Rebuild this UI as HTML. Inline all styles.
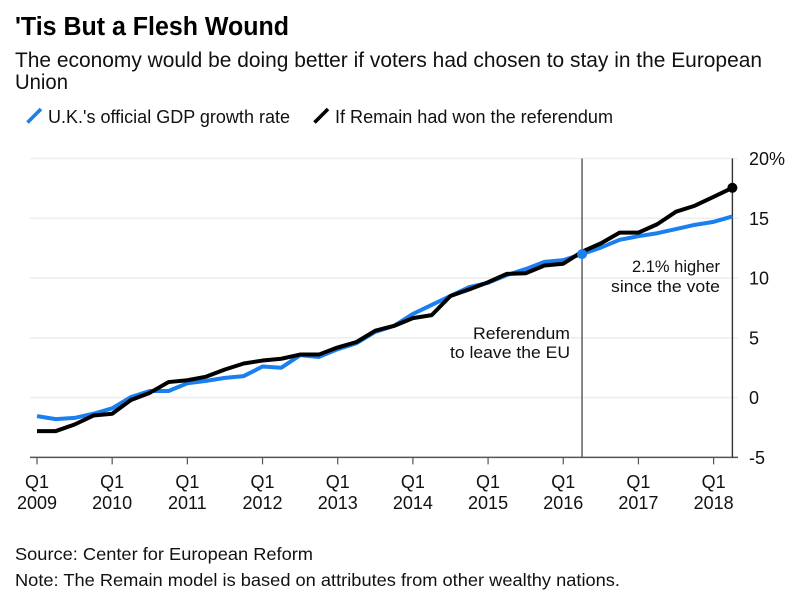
<!DOCTYPE html>
<html lang="en">
<head>
<meta charset="utf-8">
<title>'Tis But a Flesh Wound</title>
<style>
html,body{margin:0;padding:0;background:#fff;}
body{width:800px;height:604px;overflow:hidden;font-family:"Liberation Sans",sans-serif;color:#000;}
svg{display:block;}
text{font-family:"Liberation Sans",sans-serif;fill:#111;}
</style>
</head>
<body>
<svg id="chart" width="800" height="604" viewBox="0 0 800 604" xmlns="http://www.w3.org/2000/svg">
  <text x="15" y="35" font-size="25.5" font-weight="700" textLength="274" lengthAdjust="spacingAndGlyphs" style="fill:#000">'Tis But a Flesh Wound</text>
  <text x="15" y="67" font-size="21" textLength="747" lengthAdjust="spacingAndGlyphs">The economy would be doing better if voters had chosen to stay in the European</text>
  <text x="15" y="89" font-size="21" textLength="53" lengthAdjust="spacingAndGlyphs">Union</text>

  <g>
    <line x1="27.5" y1="122.5" x2="41" y2="109" stroke="#1a7fef" stroke-width="3.6"/>
    <text x="48" y="123" font-size="18.5" textLength="242" lengthAdjust="spacingAndGlyphs">U.K.'s official GDP growth rate</text>
    <line x1="314.5" y1="122.5" x2="328" y2="109" stroke="#000" stroke-width="3.6"/>
    <text x="335" y="123" font-size="18.5" textLength="278" lengthAdjust="spacingAndGlyphs">If Remain had won the referendum</text>
  </g>

  <g id="grid"></g>
  <g id="axes"></g>
  <g id="series"></g>

  <g>
    <text x="570" y="339" font-size="17" text-anchor="end" textLength="97" lengthAdjust="spacingAndGlyphs">Referendum</text>
    <text x="570" y="358" font-size="17" text-anchor="end" textLength="120" lengthAdjust="spacingAndGlyphs">to leave the EU</text>
    <text x="720" y="272" font-size="17" text-anchor="end" textLength="88" lengthAdjust="spacingAndGlyphs">2.1% higher</text>
    <text x="720" y="292" font-size="17" text-anchor="end" textLength="109" lengthAdjust="spacingAndGlyphs">since the vote</text>
  </g>

  <text x="15" y="560" font-size="17.5" textLength="298" lengthAdjust="spacingAndGlyphs">Source: Center for European Reform</text>
  <text x="15" y="586" font-size="17.5" textLength="605" lengthAdjust="spacingAndGlyphs">Note: The Remain model is based on attributes from other wealthy nations.</text>
</svg>
<script>
const tickYears = ["2009","2010","2011","2012","2013","2014","2015","2016","2017","2018"];
const yTicks = [-5,0,5,10,15,20];
const quartersPerYear = 4;
const referendumIndex = 29;
const officialGrowth = [-1.55,-1.8,-1.7,-1.35,-0.9,0.05,0.55,0.55,1.2,1.4,1.65,1.8,2.6,2.5,3.55,3.4,4.05,4.55,5.5,6.0,7.0,7.75,8.5,9.25,9.6,10.25,10.75,11.35,11.5,12.0,12.55,13.2,13.5,13.75,14.1,14.45,14.7,15.15];
const remainGrowth = [-2.8,-2.8,-2.25,-1.5,-1.35,-0.2,0.4,1.3,1.45,1.75,2.35,2.85,3.1,3.25,3.6,3.6,4.2,4.65,5.6,6.0,6.65,6.9,8.5,9.05,9.65,10.35,10.4,11.05,11.2,12.2,12.9,13.8,13.8,14.5,15.55,16.05,16.8,17.55];

const NS = "http://www.w3.org/2000/svg";
const xScale = i => 37 + i * (732.4 - 37) / 37;
const yScale = v => 397.6 - v * (397.6 - 158.5) / 20;
const lastIndex = officialGrowth.length - 1;
const mk = (parent, tag, attrs, txt) => {
  const el = document.createElementNS(NS, tag);
  for (const k in attrs) el.setAttribute(k, attrs[k]);
  if (txt !== undefined) el.textContent = txt;
  parent.appendChild(el);
  return el;
};
const grid = document.getElementById("grid");
const axes = document.getElementById("axes");
const series = document.getElementById("series");

yTicks.forEach(v => {
  const y = yScale(v);
  if (v !== -5) {
    const g = mk(grid, "line", {x1:30, x2:738, y1:y, y2:y, stroke:"#eeeeee", "stroke-width":1.6});
    
    
  }
  const label = v === 20 ? "20%" : String(v);
  const t = mk(axes, "text", {x:749, y:y + 6.5, "font-size":18}, label);
  
  
});

const base = mk(axes, "line", {x1:30, x2:738, y1:yScale(-5), y2:yScale(-5), stroke:"#555", "stroke-width":1.4});



tickYears.forEach((yr, i) => {
  const x = xScale(i * quartersPerYear);
  const y0 = yScale(-5);
  const tick = mk(axes, "line", {x1:x, x2:x, y1:y0, y2:y0 + 7, stroke:"#555", "stroke-width":1.2});
  
  
  const q = mk(axes, "text", {x:x, y:488, "font-size":18, "text-anchor":"middle"}, "Q1");
  
  
  const t = mk(axes, "text", {x:x, y:509, "font-size":18, "text-anchor":"middle"}, yr);
  
  
});

const refLine = mk(axes, "line", {x1:xScale(referendumIndex), x2:xScale(referendumIndex), y1:yScale(20), y2:yScale(-5), stroke:"#555", "stroke-width":1.4});


const endLine = mk(axes, "line", {x1:xScale(lastIndex), x2:xScale(lastIndex), y1:yScale(20), y2:yScale(-5), stroke:"#333", "stroke-width":1.4});



const toPath = vals => vals.map((v, i) => (i ? "L" : "M") + xScale(i).toFixed(2) + " " + yScale(v).toFixed(2)).join(" ");
const blue = mk(series, "path", {d:toPath(officialGrowth), fill:"none", stroke:"#1a7fef", "stroke-width":4, "stroke-linejoin":"round"});


const black = mk(series, "path", {d:toPath(remainGrowth), fill:"none", stroke:"#000", "stroke-width":4, "stroke-linejoin":"round"});



const refDot = mk(series, "circle", {cx:xScale(referendumIndex), cy:yScale(officialGrowth[referendumIndex]), r:5, fill:"#1a7fef"});


const endDot = mk(series, "circle", {cx:xScale(lastIndex), cy:yScale(remainGrowth[lastIndex]), r:5, fill:"#000"});


</script>
</body>
</html>
